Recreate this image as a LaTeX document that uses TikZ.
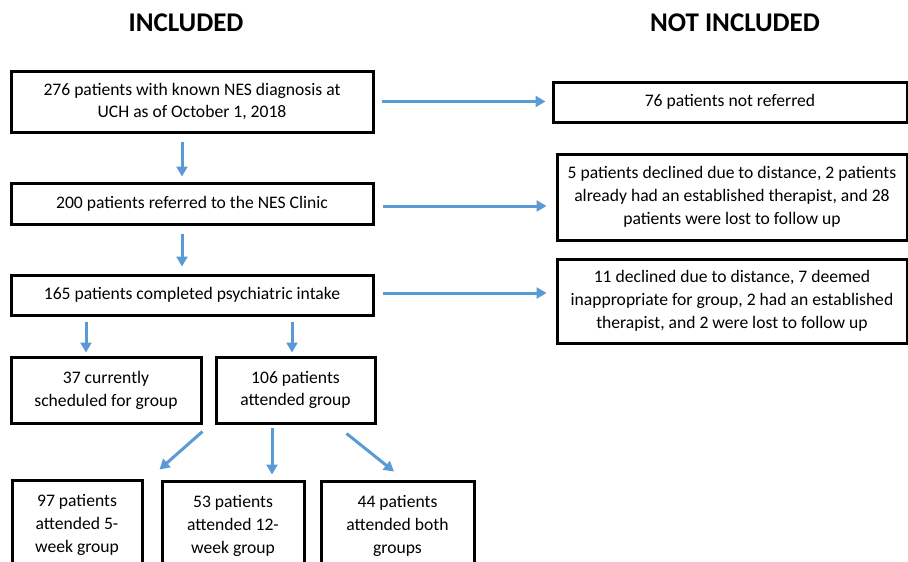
\documentclass[tikz,border=0pt]{standalone}
\usepackage{fontspec}
\setmainfont{Carlito}
\usetikzlibrary{arrows.meta,calc}
\definecolor{arrblue}{RGB}{91,155,213}
\begin{document}
\begin{tikzpicture}[x=1pt,y=-1pt,
  box/.style={draw=black,line width=3pt,align=center,inner sep=0pt,
    font=\fontsize{17.6}{22.8}\selectfont},
  ttl/.style={font=\fontsize{27}{30}\selectfont\bfseries},
  arr/.style={draw=arrblue,line width=3pt,-{Triangle[length=10pt,width=11pt]}}]
\fill[white] (0,0) rectangle (908,562);
\useasboundingbox (0,0) rectangle (908,562);
\clip (0,0) rectangle (908,562);
\node[ttl] (t1) at (186,23) {INCLUDED};
\node[ttl] (t2) at (735,23) {NOT INCLUDED};
\node[box,minimum width=362,minimum height=61] (b1) at (192,101.5) {276 patients with known NES diagnosis at\\UCH as of October 1, 2018};
\node[box,minimum width=362,minimum height=41] (b2) at (192,203.5) {200 patients referred to the NES Clinic};
\node[box,minimum width=362,minimum height=40] (b3) at (192,295) {165 patients completed psychiatric intake};
\node[box,minimum width=354,minimum height=40] (r1) at (730,102) {76 patients not referred};
\node[box,minimum width=350,minimum height=86] (r2) at (732,197) {5 patients declined due to distance, 2 patients\\already had an established therapist, and 28\\patients were lost to follow up};
\node[box,minimum width=350,minimum height=84] (r3) at (732,301) {11 declined due to distance, 7 deemed\\inappropriate for group, 2 had an established\\therapist, and 2 were lost to follow up};
\node[box,minimum width=190,minimum height=66] (b37) at (106,390) {37 currently\\scheduled for group};
\node[box,minimum width=159,minimum height=66] (b106) at (295.5,390) {106 patients\\attended group};
\node[box,minimum width=130,minimum height=90] (b97) at (77,525) {97 patients\\attended 5-\\week group};
\node[box,minimum width=142,minimum height=90] (b53) at (233,526) {53 patients\\attended 12-\\week group};
\node[box,minimum width=153,minimum height=90] (b44) at (397.5,526) {44 patients\\attended both\\groups};
% vertical arrows
\coordinate (c2) at ($(b2.north)+(-10,0)$);
\coordinate (c3) at ($(b3.north)+(-10,0)$);
\draw[arr,shorten <=8pt,shorten >=5pt] (c2 |- b1.south) -- (c2);
\draw[arr,shorten <=8pt,shorten >=7pt] (c3 |- b2.south) -- (c3);
\coordinate (c37) at ($(b37.north)+(-20,0)$);
\coordinate (c106) at ($(b106.north)+(-3.5,0)$);
\draw[arr,shorten <=5pt,shorten >=3pt] (c37 |- b3.south) -- (c37);
\draw[arr,shorten <=5pt,shorten >=3pt] (c106 |- b3.south) -- (c106);
% horizontal arrows
\draw[arr,shorten <=7pt,shorten >=6pt] (b1.east) -- (r1.west |- b1.east);
\draw[arr,shorten <=8pt,shorten >=9pt] ($(b2.east)+(0,2.5)$) -- ($(r2.west |- b2.east)+(0,2.5)$);
\draw[arr,shorten <=8pt,shorten >=9pt] ($(b3.east)+(0,-2)$) -- ($(r3.west |- b3.east)+(0,-2)$);
% diagonal arrows
\coordinate (d1s) at ($(b106.south west)+(-12,7)$);
\coordinate (d1e) at ($(b97.north east)+(16,-9)$);
\coordinate (d2s) at ($(b106.south)+(-23.5,3)$);
\coordinate (d2e) at ($(d2s |- b53.north)+(0,-5)$);
\coordinate (d3s) at ($(b106.south east)+(-30,9)$);
\coordinate (d3e) at ($(b44.north)+(-3.5,-8)$);
\draw[arr] (d1s) -- (d1e);
\draw[arr] (d2s) -- (d2e);
\draw[arr] (d3s) -- (d3e);
\end{tikzpicture}
\end{document}
